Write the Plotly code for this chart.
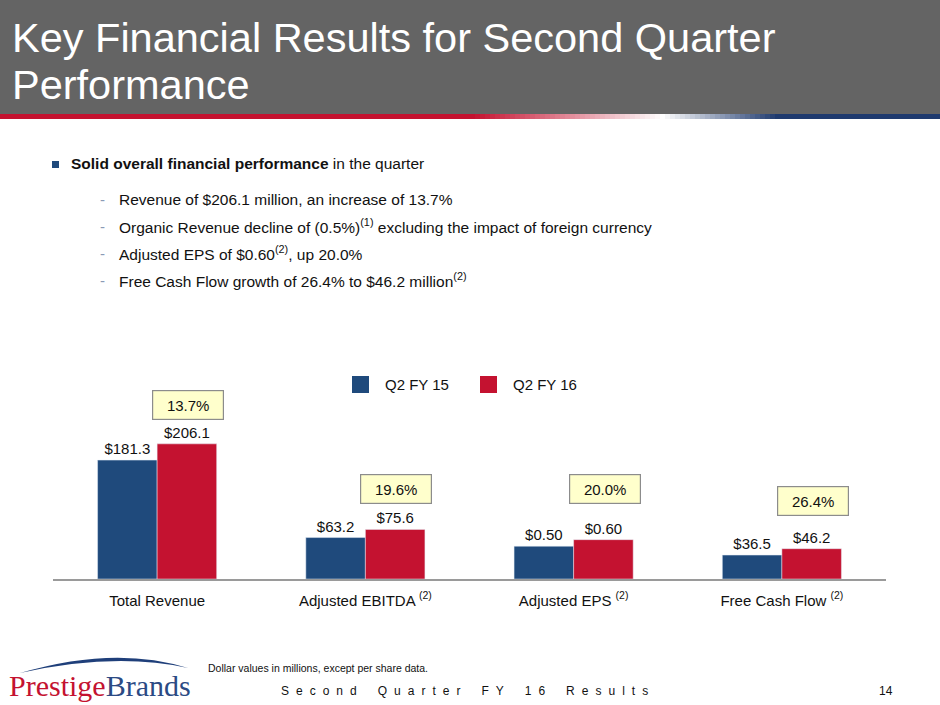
import plotly.graph_objects as go

# --- data ---
categories = ["Total Revenue", "Adjusted EBITDA", "Adjusted EPS", "Free Cash Flow"]
footnotes = ["", "(2)", "(2)", "(2)"]
series_names = ["Q2 FY 15", "Q2 FY 16"]
q2_fy15 = [181.3, 63.2, 0.50, 36.5]
q2_fy16 = [206.1, 75.6, 0.60, 46.2]
growth = ["13.7%", "19.6%", "20.0%", "26.4%"]
per_share = [False, False, True, False]  # EPS is drawn on its own (per share) scale

bullets = [
    "Revenue of $206.1 million, an increase of 13.7%",
    "Organic Revenue decline of (0.5%)<sup>(1)</sup> excluding the impact of foreign currency",
    "Adjusted EPS of $0.60<sup>(2)</sup>, up 20.0%",
    "Free Cash Flow growth of 26.4% to $46.2 million<sup>(2)</sup>",
]

BLUE = "#1f4a7c"
RED = "#c41230"
FONT = "Liberation Sans, Arial, sans-serif"

# page geometry (pixels)
W, H = 940, 705
L, R, T, B = 53, 54, 379, 126
PW, PH = W - L - R, H - T - B


def px_x(x):
    return (x - L) / PW


def px_y(y):
    return (H - B - y) / PH


def money(v, eps):
    return f"${v:.2f}" if eps else f"${v:.1f}"


ticktext = [c + (f" <sup>{f}</sup>" if f else "") for c, f in zip(categories, footnotes)]

fig = go.Figure()
colors = [BLUE, RED]
for i, (name, vals) in enumerate(zip(series_names, [q2_fy15, q2_fy16])):
    main_y = [None if e else v for v, e in zip(vals, per_share)]
    eps_y = [v if e else None for v, e in zip(vals, per_share)]
    fig.add_trace(go.Bar(
        x=categories, y=main_y, name=name, marker_color=colors[i],
        offsetgroup=str(i), text=[None if e else money(v, e) for v, e in zip(vals, per_share)],
        textposition="outside", textfont=dict(size=15, color="#111"),
        cliponaxis=False, showlegend=False, hoverinfo="skip",
    ))
    fig.add_trace(go.Bar(
        x=categories, y=eps_y, name=name, marker_color=colors[i], yaxis="y2",
        offsetgroup=str(i), text=[money(v, e) if e else None for v, e in zip(vals, per_share)],
        textposition="outside", textfont=dict(size=15, color="#111"),
        cliponaxis=False, showlegend=False, hoverinfo="skip",
    ))

y_top = 305
shapes = []
annotations = []

# title bar + gradient rule
shapes.append(dict(type="rect", xref="paper", yref="paper", x0=px_x(0), x1=px_x(W),
                   y0=px_y(0), y1=px_y(114), fillcolor="#646464", line_width=0, layer="below"))
stops = [(0, (196, 18, 48)), (470, (196, 18, 48)), (660, (255, 255, 255)),
         (775, (31, 58, 110)), (940, (31, 58, 110))]
step = 5
for x in range(0, W, step):
    for (a, ca), (b, cb) in zip(stops, stops[1:]):
        if a <= x < b:
            t = (x - a) / (b - a)
            c = tuple(int(ca[k] + (cb[k] - ca[k]) * t) for k in range(3))
            break
    shapes.append(dict(type="rect", xref="paper", yref="paper", x0=px_x(x), x1=px_x(x + step + 0.5),
                       y0=px_y(114), y1=px_y(119), fillcolor=f"rgb{c}", line_width=0))

annotations.append(dict(text="Key Financial Results for Second Quarter", x=px_x(10), y=px_y(37)))
annotations.append(dict(text="Performance", x=px_x(10), y=px_y(85)))
for a in annotations:
    a.update(xref="paper", yref="paper", xanchor="left", yanchor="middle", showarrow=False,
             font=dict(size=41.5, color="white", family=FONT))

# bullets
shapes.append(dict(type="rect", xref="paper", yref="paper", x0=px_x(52), x1=px_x(59),
                   y0=px_y(161), y1=px_y(168), fillcolor=BLUE, line_width=0))
annotations.append(dict(text="<b>Solid overall financial performance</b> in the quarter",
                        x=px_x(69), y=px_y(164), xref="paper", yref="paper", xanchor="left",
                        yanchor="middle", showarrow=False, font=dict(size=15.5, color="#111", family=FONT)))
for i, b in enumerate(bullets):
    y = 199 + 27 * i
    annotations.append(dict(text="-", x=px_x(98), y=px_y(y), xref="paper", yref="paper",
                            xanchor="left", yanchor="middle", showarrow=False,
                            font=dict(size=15, color="#8a9ab5", family=FONT)))
    annotations.append(dict(text=b, x=px_x(117), y=px_y(y), xref="paper", yref="paper",
                            xanchor="left", yanchor="middle", showarrow=False,
                            font=dict(size=15.5, color="#111", family=FONT)))

# legend drawn as slide boxes
for name, col, x0 in zip(series_names, colors, [352, 480]):
    shapes.append(dict(type="rect", xref="paper", yref="paper", x0=px_x(x0), x1=px_x(x0 + 17),
                       y0=px_y(376), y1=px_y(393), fillcolor=col, line_width=0))
    annotations.append(dict(text=name, x=px_x(x0 + 31), y=px_y(384), xref="paper", yref="paper",
                            xanchor="left", yanchor="middle", showarrow=False,
                            font=dict(size=15, color="#111", family=FONT)))

# growth call-out boxes
box_y = [405, 489, 489, 501]
for cat, g, by in zip(categories, growth, box_y):
    annotations.append(dict(text=g, x=cat, xref="x", y=px_y(by), yref="paper", xshift=31,
                            xanchor="center", yanchor="middle",
                            showarrow=False, width=68, height=26, bgcolor="#ffffcc",
                            bordercolor="#8c8c8c", borderwidth=1.2,
                            font=dict(size=15, color="#111", family=FONT)))

# footer
annotations.append(dict(text="Dollar values in millions, except per share data.", x=px_x(206), y=px_y(668),
                        xref="paper", yref="paper", xanchor="left", yanchor="middle", showarrow=False,
                        font=dict(size=10.5, color="#111", family=FONT)))
gap = "\u2002\u200a"
footer = (gap + "\u2002\u200a" + gap).join(gap.join(w) for w in ["Second", "Quarter", "FY", "16", "Results"])
annotations.append(dict(text=footer, x=px_x(279), y=px_y(691), xref="paper", yref="paper",
                        xanchor="left", yanchor="middle", showarrow=False,
                        font=dict(size=12, color="#111", family=FONT)))
annotations.append(dict(text="14", x=px_x(886), y=px_y(691), xref="paper", yref="paper",
                        xanchor="center", yanchor="middle", showarrow=False,
                        font=dict(size=12, color="#111", family=FONT)))

# logo
annotations.append(dict(text=f"<span style='color:{RED}'>Prestige</span><span style='color:#2b4a84'>Brands</span>",
                        x=px_x(7), y=px_y(685), xref="paper", yref="paper", xanchor="left",
                        yanchor="middle", showarrow=False,
                        font=dict(size=30, family="Liberation Serif, Times New Roman, serif")))


def pt(x, y):
    return f"{px_x(x):.5f},{px_y(y):.5f}"


arc = (f"M {pt(20, 673)} Q {pt(115, 645)} {pt(188, 668)} "
       f"Q {pt(115, 652)} {pt(20, 673)} Z")
shapes.append(dict(type="path", xref="paper", yref="paper", path=arc, fillcolor="#1f3f7a", line_width=0))

fig.update_layout(
    width=W, height=H,
    margin=dict(l=L, r=R, t=T, b=B),
    paper_bgcolor="white", plot_bgcolor="white",
    barmode="group", bargap=0.428, bargroupgap=0,
    font=dict(family=FONT, color="#111"),
    xaxis=dict(tickvals=categories, ticktext=ticktext, showline=True, linecolor="#9a9a9a",
               linewidth=1.5, ticks="outside", ticklen=7, tickcolor="rgba(0,0,0,0)",
               tickfont=dict(size=15, color="#111"), showgrid=False, fixedrange=True),
    yaxis=dict(range=[0, y_top], visible=False, showgrid=False),
    yaxis2=dict(range=[0, y_top / 100], overlaying="y", visible=False, showgrid=False),
    shapes=shapes, annotations=annotations,
    showlegend=False,
)

fig.write_html("out.html", config={"displayModeBar": False},
               post_script="document.body.style.margin='0';")
